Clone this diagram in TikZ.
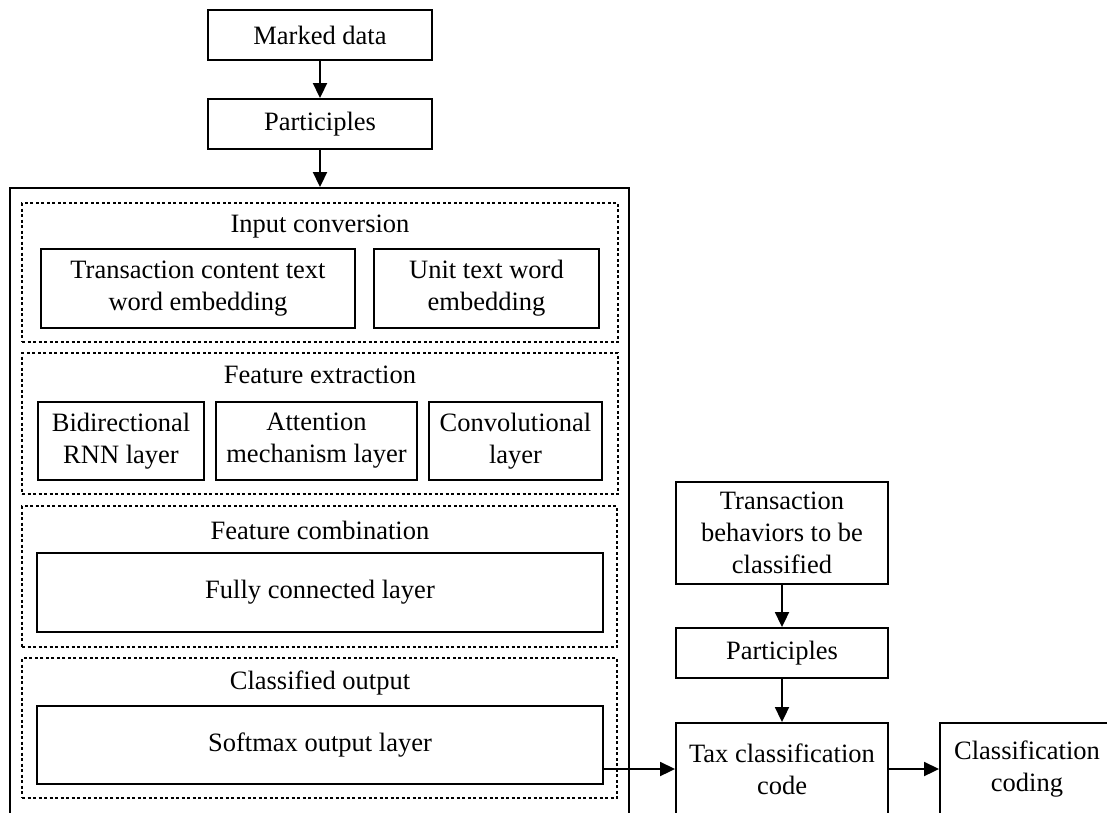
\documentclass[tikz,border=0pt]{standalone}
\usepackage{fontspec}
\setmainfont{Liberation Serif}
\usetikzlibrary{arrows.meta}

\tikzset{
  box/.style={draw, line width=1.9pt, inner sep=0pt, align=center,
    font=\fontsize{26.5}{32}\selectfont},
  group/.style={draw, line width=1.9pt, dash pattern=on 3pt off 2.5pt, inner sep=0pt},
  grouptitle/.style={inner sep=0pt, font=\fontsize{26.5}{32}\selectfont},
  flow/.style={line width=1.9pt, -{Triangle[length=15pt,width=14pt]}}
}

\begin{document}
\begin{tikzpicture}[x=1pt,y=-1pt]

\clip (0,0) rectangle (1107,812);

%colonne du modele
\def \ModelX {320}
%colonne de droite
\def \RightX {782}

% entree
\node[box, minimum width=224, minimum height=50] (marked) at (\ModelX,35) {Marked data};
\node[box, minimum width=224, minimum height=50] (partA) at (\ModelX,124) {Participles};

% cadre du modele
\node[box, minimum width=619, minimum height=630] (model) at (319.5,503) {};

% conversion d'entree
\node[group, minimum width=596, minimum height=139] (grpin) at (\ModelX,272.5) {};
\node[grouptitle] (tin) at (\ModelX,227) {Input conversion};
\node[box, minimum width=314, minimum height=79] (embtxt) at (198,288.5) {Transaction content text\\word embedding};
\node[box, minimum width=225, minimum height=79] (embunit) at (486.5,288.5) {Unit text word\\embedding};

% extraction des caracteristiques
\node[group, minimum width=596, minimum height=141] (grpfeat) at (\ModelX,423.5) {};
\node[grouptitle] (tfeat) at (\ModelX,375) {Feature extraction};
\node[box, minimum width=166, minimum height=78] (rnn) at (121,441) {Bidirectional\\RNN layer};
\node[box, minimum width=201, minimum height=78] (att) at (316.5,441) {Attention\\mechanism layer};
\node[box, minimum width=173, minimum height=78] (conv) at (515.5,441) {Convolutional\\layer};

% combinaison
\node[group, minimum width=595, minimum height=141] (grpcomb) at (319.5,576.5) {};
\node[grouptitle] (tcomb) at (\ModelX,530) {Feature combination};
\node[box, minimum width=566, minimum height=79] (fc) at (\ModelX,592.5) {Fully connected layer};

% sortie
\node[group, minimum width=595, minimum height=140] (grpout) at (319.5,728) {};
\node[grouptitle] (tout) at (\ModelX,683) {Classified output};
\node[box, minimum width=566, minimum height=78] (soft) at (\ModelX,745) {Softmax output layer};

% partie droite
\node[box, minimum width=212, minimum height=102] (behav) at (\RightX,533) {Transaction\\behaviors to be\\classified};
\node[box, minimum width=212, minimum height=50] (partB) at (\RightX,653) {Participles};
\node[box, minimum width=212, minimum height=92] (tax) at (\RightX,769) {Tax classification\\code};
\node[box, minimum width=174, minimum height=92] (code) at (1027,769) {Classification\\coding};

% fleches
\draw[flow] (marked) -- (partA);
\draw[flow] (partA) -- (partA |- model.north);
\draw[flow] (behav) -- (partB);
\draw[flow] (partB) -- (tax);
\draw[flow] (soft.east |- tax.west) -- (tax.west);
\draw[flow] (tax) -- (code);

\end{tikzpicture}
\end{document}
